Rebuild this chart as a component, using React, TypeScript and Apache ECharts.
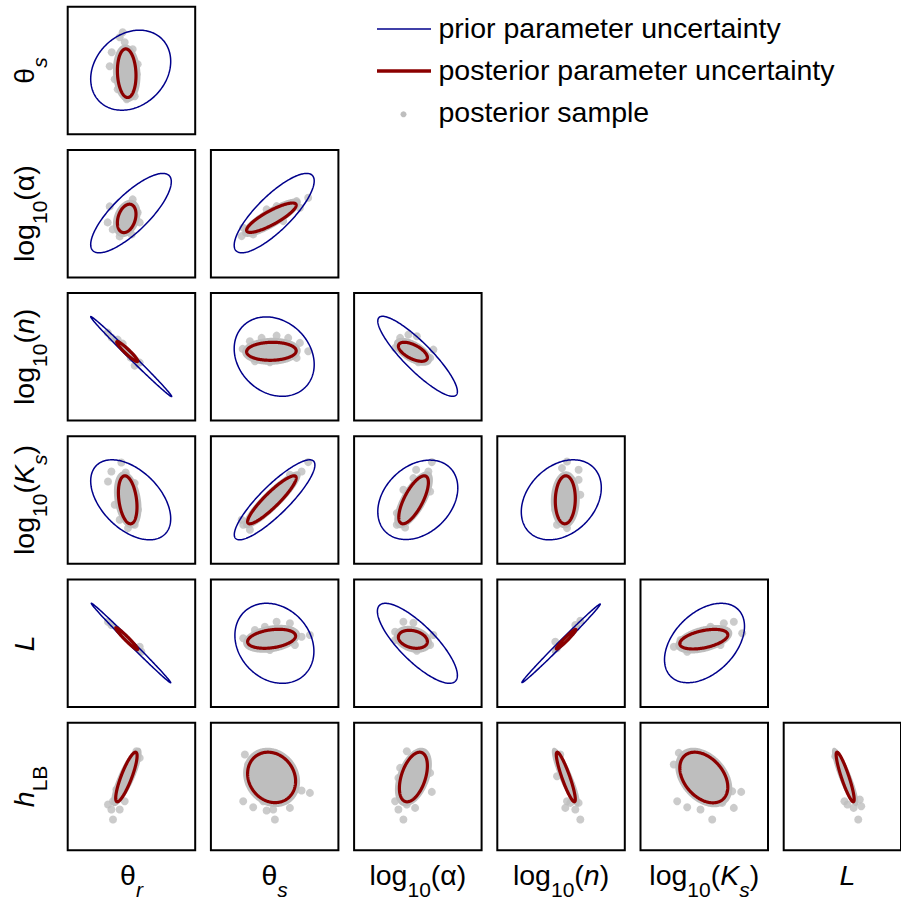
import React, { useEffect, useRef } from "react";
import * as echarts from "echarts";

// ---- labels ----
type Tok = { t: string; sub?: boolean; it?: boolean };
const ROW_LABELS: Tok[][] = [
  [{ t: "θ" }, { t: "s", sub: true, it: true }],
  [{ t: "log" }, { t: "10", sub: true }, { t: "(α)" }],
  [{ t: "log" }, { t: "10", sub: true }, { t: "(" }, { t: "n", it: true }, { t: ")" }],
  [{ t: "log" }, { t: "10", sub: true }, { t: "(" }, { t: "K", it: true }, { t: "s", sub: true, it: true }, { t: ")" }],
  [{ t: "L", it: true }],
  [{ t: "h", it: true }, { t: "LB", sub: true }],
];
const COL_LABELS: Tok[][] = [
  [{ t: "θ" }, { t: "r", sub: true, it: true }],
  [{ t: "θ" }, { t: "s", sub: true, it: true }],
  [{ t: "log" }, { t: "10", sub: true }, { t: "(α)" }],
  [{ t: "log" }, { t: "10", sub: true }, { t: "(" }, { t: "n", it: true }, { t: ")" }],
  [{ t: "log" }, { t: "10", sub: true }, { t: "(" }, { t: "K", it: true }, { t: "s", sub: true, it: true }, { t: ")" }],
  [{ t: "L", it: true }],
];
const LEGEND_LABELS = ["prior parameter uncertainty", "posterior parameter uncertainty", "posterior sample"];

// ---- ellipses: [row, col, cx, cy, sx, sy, rho] (panel units) ----
const PRIOR: number[][] = [
  [0, 0, 64, 65, 40, 40, 0.22],
  [1, 0, 64.3, 65.3, 40.3, 39.7, 0.79],
  [1, 1, 64.3, 65.3, 40, 39.7, 0.81],
  [2, 0, 64.5, 65, 40.5, 40, -0.996],
  [2, 1, 64.3, 65, 40, 39.7, -0.2],
  [2, 2, 64.5, 65.3, 39.8, 40, -0.88],
  [3, 0, 64, 65, 40, 40, -0.47],
  [3, 1, 64.7, 65, 40.3, 40, 0.87],
  [3, 2, 64.7, 65, 40, 39.7, 0.3],
  [3, 3, 65, 65, 40, 40, 0.3],
  [4, 0, 64.3, 65, 39.7, 39.7, -0.997],
  [4, 1, 64.5, 64.7, 39.5, 40, -0.2],
  [4, 2, 64.3, 64.7, 40, 40, -0.8],
  [4, 3, 64.8, 64.7, 39.2, 39.3, 0.996],
  [4, 4, 65, 65, 40, 39.7, 0.42],
];
const POSTERIOR: number[][] = [
  [0, 0, 60, 62, 9.3, 24.3, -0.1],
  [1, 0, 60, 60, 9.3, 14.2, 0.3],
  [1, 1, 61.5, 60.7, 24.8, 14.7, 0.85],
  [2, 0, 60.5, 70, 10.5, 10, -0.95],
  [2, 1, 61.5, 70.3, 24.8, 9, 0.05],
  [2, 2, 59.8, 69.8, 14.5, 9.5, -0.6],
  [3, 0, 61, 65, 9.3, 24, -0.3],
  [3, 1, 62, 65, 24.3, 24, 0.91],
  [3, 2, 60.5, 65, 14.8, 24, 0.72],
  [3, 3, 69, 65, 10, 24, 0.05],
  [4, 0, 60, 69.3, 11, 11, -0.97],
  [4, 1, 61.7, 69.2, 24, 9.5, 0.3],
  [4, 2, 59.8, 68.7, 14.5, 9, -0.25],
  [4, 3, 69.8, 68.8, 9.8, 9.8, 0.97],
  [4, 4, 64.3, 68.8, 24, 9.8, 0.45],
  [5, 0, 59.7, 74.2, 10.7, 24.8, 0.85],
  [5, 1, 61.7, 73.8, 24, 25.2, -0.15],
  [5, 2, 60.3, 74.2, 14, 24.8, 0.45],
  [5, 3, 69.5, 74.2, 9.5, 24.8, -0.9],
  [5, 4, 64.3, 73.7, 24, 25.3, -0.38],
  [5, 5, 67.8, 74.2, 9.8, 24.8, -0.9],
];

// ---- posterior sample points outside the dense core, per row then column ----
const SAMPLES_ROW0: number[][][] = [
  [[56, 103], [58, 93], [45, 83], [43, 69], [48, 56], [70, 61], [71, 71], [66, 86], [51, 46], [60, 36], [68, 39], [53, 98]],
];
const SAMPLES_ROW1: number[][][] = [
  [[43, 72], [41, 56], [66, 79], [71, 66], [73, 56], [53, 42], [65, 44], [46, 49]],
  [[31.7, 42.3], [33.3, 50.7], [43.3, 44], [86.7, 77.3], [98.3, 80.7], [90, 70.7], [56.7, 69], [66.7, 72.3], [48.3, 49], [73.3, 57.3]],
];
const SAMPLES_ROW2: number[][][] = [
  [[41, 89], [45, 84], [68, 56], [73, 59], [51, 82], [56, 78], [64, 64]],
  [[40, 80.3], [51.7, 83.7], [66.7, 86], [78.3, 83.7], [98.3, 70.3], [32.7, 72.7], [45, 60.3], [60, 59.3], [86.7, 63.7], [90, 78.7]],
  [[47, 83.7], [55.3, 87], [63.7, 85.3], [80.3, 72], [77, 63.7], [65.3, 59.3], [42, 73.7]],
];
const SAMPLES_ROW3: number[][][] = [
  [[54.7, 102.3], [44.7, 93.3], [59, 92.3], [41.3, 83.3], [68, 81.7], [71.3, 55], [48, 60], [61.3, 36.7], [68, 40], [53, 45]],
  [[98.3, 102.7], [91.7, 93.3], [80, 90], [33.3, 40], [40, 35], [31.7, 45], [50, 53.3], [66.7, 73.3], [76.7, 83.3]],
  [[78.7, 102.7], [63, 95], [75.3, 93.3], [60.3, 86.7], [50.3, 75], [43.7, 51.7], [43.7, 40], [52, 37.3], [77, 73.3]],
  [[70.7, 103.3], [82.3, 95], [82.3, 85], [84, 70], [59, 55], [60.7, 40], [70.7, 36.7], [65.7, 96.7]],
];
const SAMPLES_ROW4: number[][][] = [
  [[41.3, 86.3], [44.7, 83], [74.7, 56.3], [73, 61.3]],
  [[66.7, 86.3], [80, 84.7], [55, 81.3], [33.3, 69.7], [91.7, 71.3], [100, 73], [85, 63], [60, 58], [45, 78]],
  [[50.3, 86.3], [60.3, 85.3], [42, 76.3], [80.3, 73], [77, 63], [63.7, 57.3], [42, 68]],
  [[84, 87.3], [79, 83], [60.7, 59.7], [59, 66.3]],
  [[94.3, 86.3], [84.3, 84.7], [102.7, 74.7], [71, 81.3], [34.3, 61.3], [47.7, 56.3], [41, 68], [81, 63]],
];
const SAMPLES_ROW5: number[][][] = [
  [[69.7, 100], [73, 93.3], [46.3, 50], [41.3, 46.7], [44.7, 41.7], [53, 41.7], [58, 50], [46.3, 31.7], [49.7, 61.7], [66.3, 83.3]],
  [[35, 96.7], [38.3, 86.7], [83.3, 76.7], [91.7, 60.7], [100, 58.3], [33.3, 50], [43.3, 44], [56.7, 40.7], [65, 31.7], [80, 43.3], [73.3, 53.3], [53.3, 50], [63.3, 41.7]],
  [[53.7, 100], [47, 83.3], [45.3, 73.3], [77, 78.3], [78.7, 59.3], [42, 50], [45.3, 41.7], [62, 43.3], [50.3, 31.7], [53.7, 46.7]],
  [[70.7, 50], [74, 48.3], [82.3, 48.3], [69, 43.3], [79, 41.7], [84, 31.7], [60.7, 75], [64, 96.7]],
  [[39.3, 98.3], [34.3, 86.7], [92.7, 60], [101.7, 59.3], [37.7, 50], [47.7, 44], [61, 41.7], [72.7, 31.7], [82.7, 48.3], [94.3, 43.3], [66, 50]],
  [[67, 50], [70.3, 46.7], [77, 43.3], [85.3, 45], [82, 31.7], [83.7, 51.7], [57, 95]],
];
const SAMPLES = [SAMPLES_ROW0, SAMPLES_ROW1, SAMPLES_ROW2, SAMPLES_ROW3, SAMPLES_ROW4, SAMPLES_ROW5];

// ---- style / layout ----
const BLUE = "#00008B";
const RED = "#8B0000";
const GRAY = "#BEBEBE";
const FONT = "Liberation Sans";
const MAIN = 28.5;
const SUB = 21;
const SUB_DROP = 12.5;
const CENTRAL = 0.347; // central baseline offset (em)
const LEFT0 = 67.7;
const TOP0 = 6.7;
const PITCH = 143.2;
const SIZE = 127.5;

let measureCtx: CanvasRenderingContext2D | null = null;
function textWidth(tok: Tok) {
  if (!measureCtx) measureCtx = document.createElement("canvas").getContext("2d");
  const size = tok.sub ? SUB : MAIN;
  measureCtx!.font = `${tok.it ? "italic " : ""}${size}px "${FONT}"`;
  return measureCtx!.measureText(tok.t).width;
}

function labelChildren(tokens: Tok[]) {
  const widths = tokens.map(textWidth);
  const total = widths.reduce((a, b) => a + b, 0);
  let x = -total / 2;
  return tokens.map((tok, i) => {
    const size = tok.sub ? SUB : MAIN;
    const baseline = tok.sub ? SUB_DROP : 0;
    const el = {
      type: "text",
      x,
      y: baseline - CENTRAL * size,
      style: {
        text: tok.t,
        fontFamily: FONT,
        fontSize: size,
        fontStyle: tok.it ? "italic" : "normal",
        fill: "#000",
        align: "left",
        verticalAlign: "middle",
      },
    };
    x += widths[i];
    return el;
  });
}

function buildOption() {
  const grid: any[] = [];
  const xAxis: any[] = [];
  const yAxis: any[] = [];
  const series: any[] = [];
  const graphic: any[] = [];
  let idx = 0;
  for (let r = 0; r < 6; r++) {
    for (let c = 0; c <= r; c++) {
      grid.push({
        left: LEFT0 + PITCH * c,
        top: TOP0 + PITCH * r,
        width: SIZE,
        height: SIZE,
        show: true,
        borderColor: "#000",
        borderWidth: 2,
        backgroundColor: "transparent",
      });
      xAxis.push({ gridIndex: idx, type: "value", min: 1, max: 128.5, show: false });
      yAxis.push({ gridIndex: idx, type: "value", min: 1, max: 128.5, show: false });
      series.push({
        type: "scatter",
        xAxisIndex: idx,
        yAxisIndex: idx,
        data: SAMPLES[r][c],
        symbol: "circle",
        symbolSize: 8,
        itemStyle: { color: GRAY },
        silent: true,
        z: 1,
      });
      const post = POSTERIOR.find((e) => e[0] === r && e[1] === c)!;
      const prior = PRIOR.find((e) => e[0] === r && e[1] === c);
      const ell: number[][] = [];
      ell.push([...post.slice(2), 0]);
      if (prior) ell.push([...prior.slice(2), 1]);
      ell.push([...post.slice(2), 2]);
      series.push({
        type: "custom",
        xAxisIndex: idx,
        yAxisIndex: idx,
        data: ell,
        encode: { x: 0, y: 1 },
        clip: false,
        silent: true,
        z: 2,
        renderItem: (params: any, api: any) => {
          const cx = api.value(0), cy = api.value(1), sx = api.value(2), sy = api.value(3);
          const rho = api.value(4), kind = api.value(5);
          const q = Math.sqrt(1 - rho * rho);
          const kx = kind === 0 ? (sx + 3.5) / sx : 1;
          const ky = kind === 0 ? (sy + 3.5) / sy : 1;
          const pts: number[][] = [];
          for (let i = 0; i < 240; i++) {
            const t = (i / 240) * Math.PI * 2;
            pts.push(api.coord([cx + kx * sx * Math.cos(t), cy + ky * sy * (rho * Math.cos(t) + q * Math.sin(t))]));
          }
          if (kind === 0) {
            return { type: "polygon", shape: { points: pts }, style: { fill: GRAY, stroke: GRAY, lineWidth: 2 } };
          }
          return {
            type: "polygon",
            shape: { points: pts },
            style: { fill: "none", stroke: kind === 1 ? BLUE : RED, lineWidth: kind === 1 ? 1.5 : 3.2 },
          };
        },
      });
      idx++;
    }
  }
  // row labels (rotated)
  for (let r = 0; r < 6; r++) {
    graphic.push({
      type: "group",
      x: 34.3,
      y: TOP0 + PITCH * r + SIZE / 2,
      rotation: Math.PI / 2,
      children: labelChildren(ROW_LABELS[r]),
    });
  }
  // column labels
  for (let c = 0; c < 6; c++) {
    graphic.push({
      type: "group",
      x: LEFT0 + PITCH * c + SIZE / 2,
      y: 884.5,
      children: labelChildren(COL_LABELS[c]),
    });
  }
  // legend
  const legY = [28, 70, 112];
  graphic.push({ type: "line", shape: { x1: 377, y1: 29, x2: 431, y2: 29 }, style: { stroke: BLUE, lineWidth: 1.5 } });
  graphic.push({ type: "line", shape: { x1: 377, y1: 71, x2: 431, y2: 71 }, style: { stroke: RED, lineWidth: 3.4 } });
  graphic.push({ type: "circle", shape: { cx: 403.5, cy: 114.3, r: 3 }, style: { fill: GRAY } });
  LEGEND_LABELS.forEach((t, i) => {
    graphic.push({
      type: "text",
      x: 438.5,
      y: legY[i],
      style: { text: t, fontFamily: FONT, fontSize: MAIN, fill: "#000", align: "left", verticalAlign: "middle" },
    });
  });

  return { animation: false, backgroundColor: "#fff", grid, xAxis, yAxis, series, graphic };
}

export default function App() {
  const ref = useRef<HTMLDivElement>(null);
  useEffect(() => {
    if (!ref.current) return;
    const chart = echarts.init(ref.current, null, { renderer: "svg" });
    chart.setOption(buildOption() as any);
    return () => chart.dispose();
  }, []);
  return <div ref={ref} style={{ position: "fixed", left: 0, top: 0, width: 901, height: 900 }} />;
}
